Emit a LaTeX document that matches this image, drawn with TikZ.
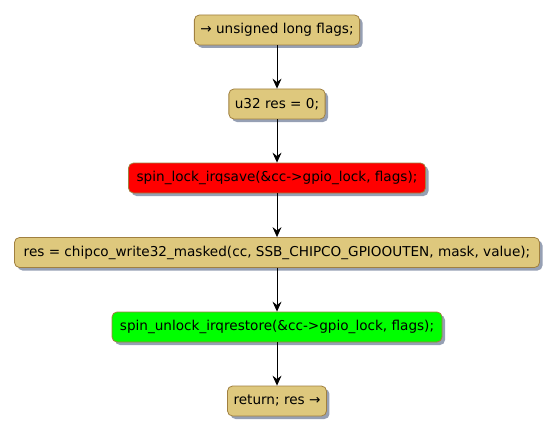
\documentclass[tikz,border=0pt]{standalone}
\usepackage{fontspec}
\setmainfont{DejaVu Sans}
\usetikzlibrary{shadows,arrows.meta}
\definecolor{tan}{RGB}{222,200,125}
\definecolor{tanborder}{RGB}{160,128,64}
\definecolor{shadowc}{RGB}{150,160,180}
\tikzset{
  actbox/.style={draw=tanborder, fill=tan, line width=0.8pt, rounded corners=5pt,
    minimum height=30pt, inner xsep=6pt, inner ysep=0pt, anchor=center,
    font=\fontsize{13.6}{15}\selectfont, text=black,
    drop shadow={shadow xshift=3pt, shadow yshift=-3pt, fill=shadowc, opacity=1}},
  flow/.style={-{Stealth[length=10pt,width=9pt,inset=3.5pt]}, line width=0.9pt, black}
}
\begin{document}
\begin{tikzpicture}[x=1pt,y=-1pt]
\useasboundingbox (0,0) rectangle (556,433);
\node[actbox, minimum width=165pt] (n1) at (277,30) {→ unsigned long flags;};
\node[actbox, minimum width=95pt] (n2) at (277,104) {u32 res = 0;};
\node[actbox, fill=red, minimum width=297pt] (n3) at (277,178) {spin\_lock\_irqsave(\&cc->gpio\_lock, flags);};
\node[actbox, minimum width=525pt] (n4) at (277,252.5) {res = chipco\_write32\_masked(cc, SSB\_CHIPCO\_GPIOOUTEN, mask, value);};
\node[actbox, fill=green, minimum width=330pt] (n5) at (277,327) {spin\_unlock\_irqrestore(\&cc->gpio\_lock, flags);};
\node[actbox, minimum width=98pt] (n6) at (277,401) {return; res →};
\draw[flow] (n1) -- (n2);
\draw[flow] (n2) -- (n3);
\draw[flow] (n3) -- (n4);
\draw[flow] (n4) -- (n5);
\draw[flow] (n5) -- (n6);
\end{tikzpicture}
\end{document}
